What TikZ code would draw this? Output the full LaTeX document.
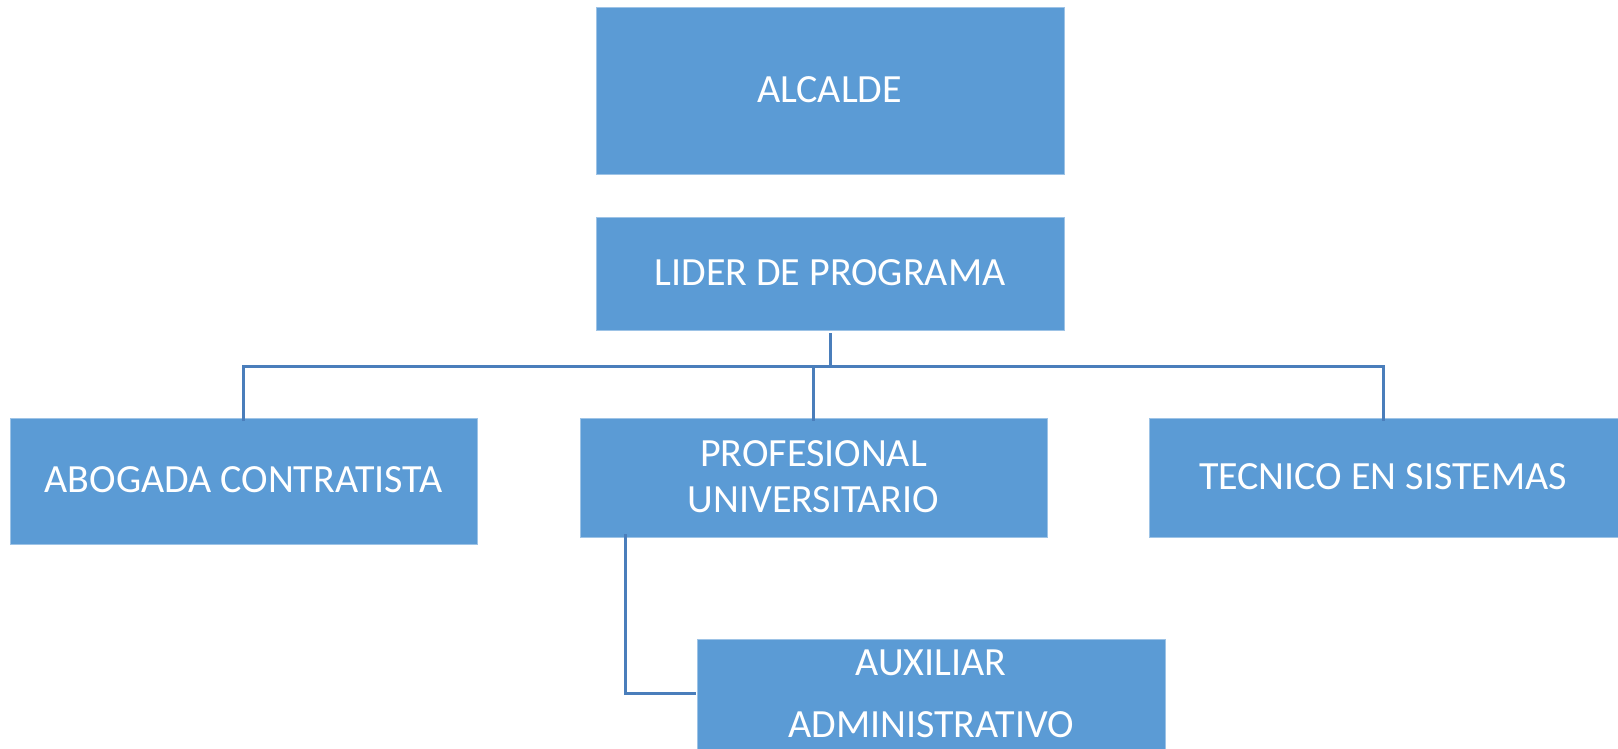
\documentclass[tikz,border=0pt]{standalone}
\usepackage{fontspec}
\setmainfont{Carlito}
\definecolor{boxblue}{HTML}{5B9BD5}
\definecolor{lineblue}{HTML}{4A7EBB}
\tikzset{
  orgbox/.style={fill=boxblue, draw=boxblue!60!white, line width=0.8pt, inner sep=0pt, outer sep=0pt},
  orgtext/.style={text=white, font=\fontsize{40}{48}\selectfont, inner sep=0pt, text height=25.8pt, text depth=0pt, anchor=center},
  link/.style={draw=lineblue, line width=3pt}
}
\newcommand{\orgrect}[5]{% name, x1, y1, x2, y2
  \node[orgbox, minimum width={#4-#2}, minimum height={#5-#3}] (#1) at ({(#2+#4)/2},{(#3+#5)/2}) {};}
\begin{document}
\begin{tikzpicture}[x=1pt,y=-1pt]
\path[use as bounding box] (0,0) rectangle (1618,748);
\clip (0,0) rectangle (1618,748);
% boxes
\orgrect{alcalde}{596}{7}{1064}{174}
\orgrect{lider}{596}{217}{1064}{330}
\orgrect{abogada}{10}{418}{477}{544}
\orgrect{prof}{580}{418}{1047}{537}
\orgrect{tecnico}{1149}{418}{1618}{537}
\orgrect{aux}{697}{639}{1165}{800}
% texts
\node[orgtext] (t-alcalde) at (829.5,89.7) {ALCALDE};
\node[orgtext] (t-lider) at (830,272.5) {LIDER DE PROGRAMA};
\node[orgtext] (t-abogada) at (243.5,479.7) {ABOGADA CONTRATISTA};
\node[orgtext] (t-prof1) at (813.5,454) {PROFESIONAL};
\node[orgtext] (t-prof2) at (813.5,499.7) {UNIVERSITARIO};
\node[orgtext] (t-tecnico) at (1383,476.3) {TECNICO EN SISTEMAS};
\node[orgtext] (t-aux1) at (931,663) {AUXILIAR};
\node[orgtext] (t-aux2) at (931,724.5) {ADMINISTRATIVO};
% connectors
\coordinate (bus) at (830,366);
\coordinate (profcorner) at (625,693);
\draw[link] (830,333) -- (bus);
\draw[link] ([yshift=-3pt]abogada.north -| 243.5,0) |- (bus -| 1383.5,0) -- ([yshift=-3pt]tecnico.north -| 1383.5,0);
\draw[link] (bus -| prof.north) -- ([yshift=-3pt]prof.north);
\draw[link] ([yshift=3pt]prof.south -| profcorner) -- (profcorner) -- ([xshift=-1pt]aux.west |- profcorner);
\end{tikzpicture}
\end{document}
